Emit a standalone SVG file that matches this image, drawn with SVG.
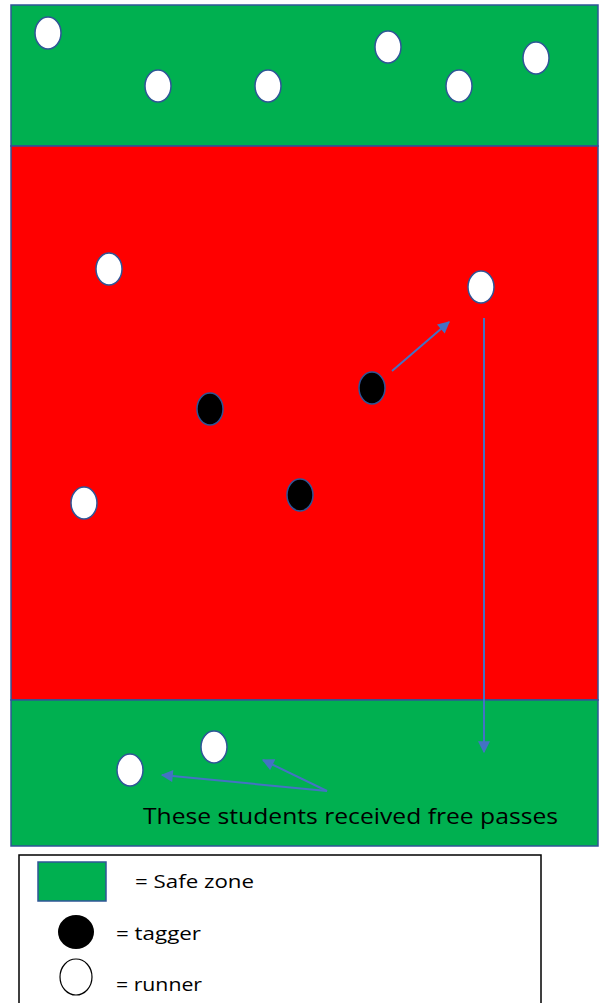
<svg xmlns="http://www.w3.org/2000/svg" width="605" height="1003" viewBox="0 0 605 1003">
<style>
.safe{fill:#00B050;stroke:#2F5597;stroke-width:1.5}
.zone{fill:#FF0000;stroke:#2F5597;stroke-width:1.5}
.runner{fill:#FFFFFF;stroke:#2F5597;stroke-width:1.5}
.tagger{fill:#000000;stroke:#2F5597;stroke-width:1.5}
.arr{stroke:#4472C4;stroke-width:2;fill:none;marker-end:url(#ah)}
.lbl{font-family:"Open Sans","Liberation Sans",sans-serif;fill:#000}
</style>
<defs>
<marker id="ah" viewBox="0 0 10 10" refX="9" refY="5" markerWidth="6.5" markerHeight="6" orient="auto" markerUnits="strokeWidth">
<path d="M0,0 L10,5 L0,10 z" fill="#4472C4"/>
</marker>
</defs>
<rect width="605" height="1003" fill="#FFFFFF"/>
<g id="field">
<rect id="top-safe" class="safe" x="11" y="5" width="587" height="141"/>
<rect id="tag-zone" class="zone" x="11" y="146" width="587" height="554"/>
<rect id="bottom-safe" class="safe" x="11" y="700" width="587" height="146"/>
</g>
<g id="runners-top">
<ellipse class="runner" cx="48" cy="33" rx="13" ry="16"/>
<ellipse class="runner" cx="158" cy="86" rx="13" ry="16"/>
<ellipse class="runner" cx="268" cy="86" rx="13" ry="16"/>
<ellipse class="runner" cx="388" cy="47" rx="13" ry="16"/>
<ellipse class="runner" cx="459" cy="86" rx="13" ry="16"/>
<ellipse class="runner" cx="536" cy="58" rx="13" ry="16"/>
</g>
<g id="runners-red">
<ellipse class="runner" cx="109" cy="269" rx="13" ry="16"/>
<ellipse class="runner" cx="481" cy="287" rx="13" ry="16"/>
<ellipse class="runner" cx="84" cy="503" rx="13" ry="16"/>
</g>
<g id="taggers">
<ellipse class="tagger" cx="210" cy="409" rx="13" ry="16"/>
<ellipse class="tagger" cx="372" cy="388" rx="13" ry="16"/>
<ellipse class="tagger" cx="300" cy="495" rx="13" ry="16"/>
</g>
<g id="runners-bottom">
<ellipse class="runner" cx="130" cy="770" rx="13" ry="16"/>
<ellipse class="runner" cx="214" cy="747" rx="13" ry="16"/>
</g>
<g id="connectors">
<line class="arr" x1="392" y1="371" x2="449" y2="322"/>
<line class="arr" x1="484" y1="318" x2="484" y2="752"/>
<line class="arr" x1="327" y1="791" x2="162" y2="775"/>
<line class="arr" x1="327" y1="791" x2="263" y2="760"/>
</g>
<text class="lbl" x="143" y="824" font-size="22" textLength="415" lengthAdjust="spacingAndGlyphs">These students received free passes</text>
<g id="legend">
<rect x="19" y="855" width="522" height="160" fill="#FFFFFF" stroke="#000" stroke-width="1.5"/>
<rect class="safe" x="38" y="862" width="68" height="39"/>
<text class="lbl" x="135" y="888" font-size="18" textLength="119" lengthAdjust="spacingAndGlyphs">= Safe zone</text>
<ellipse cx="76" cy="932" rx="18" ry="17" fill="#000"/>
<text class="lbl" x="116" y="940" font-size="18" textLength="85" lengthAdjust="spacingAndGlyphs">= tagger</text>
<ellipse cx="76" cy="977" rx="16" ry="18" fill="#FFF" stroke="#000" stroke-width="1.2"/>
<text class="lbl" x="116" y="991" font-size="18" textLength="86" lengthAdjust="spacingAndGlyphs">= runner</text>
</g>
</svg>
